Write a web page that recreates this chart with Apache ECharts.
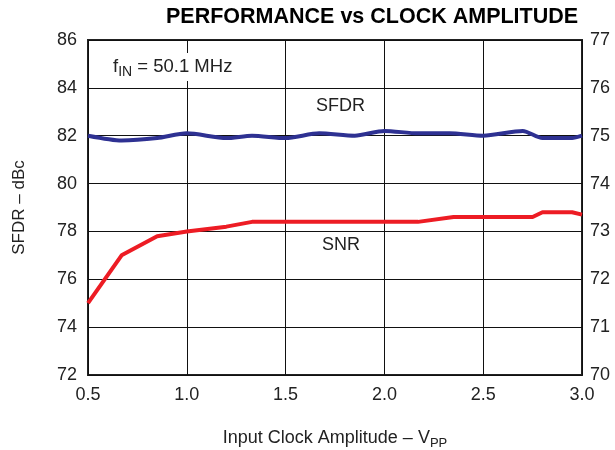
<!DOCTYPE html>
<html>
<head>
<meta charset="utf-8">
<script src="https://cdn.jsdelivr.net/npm/echarts@6/dist/echarts.min.js"></script>
<style>
html,body{margin:0;padding:0;background:#fff;}
#c{width:615px;height:450px;}
</style>
</head>
<body>
<div id="c"></div>
<script>
// Data
var sfdrX = [0.5, 0.67, 0.85, 1.0, 1.2, 1.33, 1.5, 1.67, 1.85, 2.0, 2.17, 2.33, 2.5, 2.7, 2.8, 2.95, 3.0];
var sfdrY = [82.0, 81.8, 81.9, 82.1, 81.9, 82.0, 81.9, 82.1, 82.0, 82.2, 82.1, 82.1, 82.0, 82.2, 81.9, 81.9, 82.0];
var snrX = [0.5, 0.67, 0.85, 1.0, 1.2, 1.33, 2.17, 2.35, 2.75, 2.8, 2.95, 3.0];
var snrY = [71.5, 72.5, 72.9, 73.0, 73.1, 73.2, 73.2, 73.3, 73.3, 73.4, 73.4, 73.35];
var xTicks = [0.5, 1.0, 1.5, 2.0, 2.5, 3.0];
var leftTicks = [72, 74, 76, 78, 80, 82, 84, 86];
var rightTicks = [70, 71, 72, 73, 74, 75, 76, 77];

function pairs(xs, ys) { return xs.map(function (x, i) { return [x, ys[i]]; }); }

var FONT = '"Liberation Sans", Arial, Helvetica, sans-serif';
var chart = echarts.init(document.getElementById('c'), null, { renderer: 'canvas' });
var option = {
  backgroundColor: '#fff',
  animation: false,
  textStyle: { fontFamily: FONT, color: '#222' },
  title: {
    text: 'PERFORMANCE vs CLOCK AMPLITUDE',
    left: 161, top: 1,
    textStyle: { fontFamily: FONT, fontSize: 21.5, fontWeight: 'bold', color: '#000' }
  },
  grid: { left: 88, right: 33, top: 40, bottom: 75, show: true, borderColor: '#222', borderWidth: 2,
    backgroundColor: 'transparent', containLabel: false, outerBoundsMode: 'none' },
  xAxis: {
    type: 'value', min: xTicks[0], max: xTicks[xTicks.length - 1], interval: 0.5,
    axisLine: { show: false }, axisTick: { show: false },
    splitLine: { show: true, lineStyle: { color: '#111', width: 1 } },
    axisLabel: { fontFamily: FONT, fontSize: 18, color: '#222', margin: 11, formatter: function (v) { return v.toFixed(1); } },
    name: 'Input Clock Amplitude – V{s|PP}',
    nameLocation: 'middle', nameGap: 51,
    nameTextStyle: { fontFamily: FONT, fontSize: 18, color: '#222', lineHeight: 24,
      rich: { s: { fontFamily: FONT, fontSize: 13, color: '#222', verticalAlign: 'bottom', lineHeight: 13 } } }
  },
  yAxis: [{
    type: 'value', min: leftTicks[0], max: leftTicks[leftTicks.length - 1], interval: 2,
    axisLine: { show: false }, axisTick: { show: false },
    splitLine: { show: true, lineStyle: { color: '#111', width: 1 } },
    axisLabel: { fontFamily: FONT, fontSize: 18, color: '#222', margin: 11 },
    name: 'SFDR – dBc', nameLocation: 'middle', nameGap: 60, nameRotate: 90,
    nameTextStyle: { fontFamily: FONT, fontSize: 17, color: '#222' }
  }, {
    type: 'value', position: 'right', min: rightTicks[0], max: rightTicks[rightTicks.length - 1], interval: 1,
    axisLine: { show: false }, axisTick: { show: false }, splitLine: { show: false },
    axisLabel: { fontFamily: FONT, fontSize: 18, color: '#222', margin: 8 }
  }],
  series: [{
    name: 'SFDR', type: 'line', yAxisIndex: 0, data: pairs(sfdrX, sfdrY),
    showSymbol: false, smooth: 0.25, lineStyle: { color: '#2e3192', width: 4 }, z: 3
  }, {
    name: 'SNR', type: 'line', yAxisIndex: 1, data: pairs(snrX, snrY),
    showSymbol: false, smooth: false, lineStyle: { color: '#ed1c24', width: 4 }, z: 3
  }],
  graphic: [
    { type: 'text', left: 107, top: 53, z: 10,
      style: { text: 'f{s|IN} = 50.1 MHz', fontFamily: FONT, fontSize: 18.5, fill: '#222', lineHeight: 24,
        backgroundColor: '#fff', padding: [2, 6, 2, 6],
        rich: { s: { fontFamily: FONT, fontSize: 14, fill: '#222', verticalAlign: 'bottom', lineHeight: 14 } } } },
    { type: 'text', left: 316, top: 97, z: 10,
      style: { text: 'SFDR', fontFamily: FONT, fontSize: 18, fill: '#222' } },
    { type: 'text', left: 322, top: 236, z: 10,
      style: { text: 'SNR', fontFamily: FONT, fontSize: 18, fill: '#222' } }
  ]
};
chart.setOption(option);
</script>
</body>
</html>
